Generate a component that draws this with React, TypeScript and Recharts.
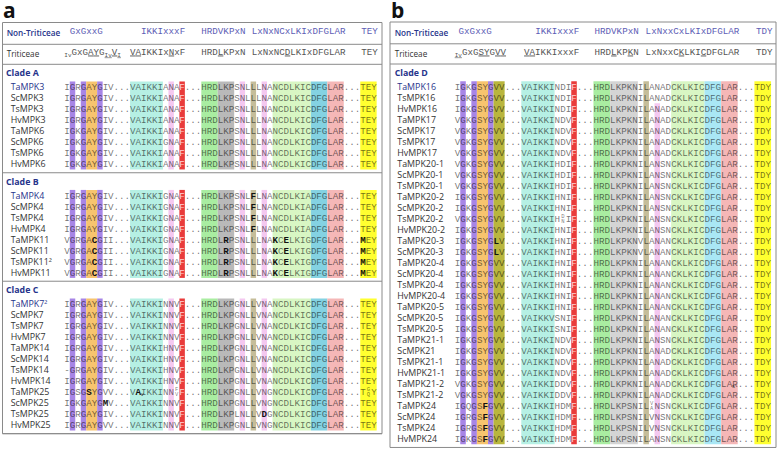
import React from 'react'
import { ScatterChart, Scatter, XAxis, YAxis, ReferenceArea, ReferenceLine } from 'recharts'

// ---- panel a: sequences (markup: *X = bold, {AB} = stacked small pair, X_s = small subscript) ----
const cladeANames = ['TaMPK3', 'ScMPK3', 'TsMPK3', 'HvMPK3', 'TaMPK6', 'ScMPK6', 'TsMPK6', 'HvMPK6']
const cladeASeqs = [
    'IGRGAYGIV...VAIKKIANAF...HRDLKPSNLLLNANCDLKICDFGLAR...TEY',
    'IGRGAYGIV...VAIKKIANAF...HRDLKPSNLLLNANCDLKICDFGLAR...TEY',
    'IGRGAYGIV...VAIKKIANAF...HRDLKPSNLLLNANCDLKICDFGLAR...TEY',
    'IGRGAYGIV...VAIKKIANAF...HRDLKPSNLLLNANCDLKICDFGLAR...TEY',
    'IGKGAYGIV...VAIKKIANAF...HRDLKPSNLLLNANCDLKICDFGLAR...TEY',
    'IGKGAYGIV...VAIKKIGNAF...HRDLKPSNLLLNANCDLKICDFGLAR...TEY',
    'IGKGAYGIV...VAIKKIANAF...HRDLKPSNLLLNANCDLKICDFGLAR...TEY',
    'IGKGAYGIV...VAIKKIANAF...HRDLKPSNLLLNANCDLKICDFGLAR...TEY',
]
const cladeBNames = ['TaMPK4', 'ScMPK4', 'TsMPK4', 'HvMPK4', 'TaMPK11', 'ScMPK11', 'TsMPK11²', 'HvMPK11']
const cladeBSeqs = [
    'IGRGAYGIV...VAIKKIGNAF...HRDLKPSNL*FLNANCDLKIADFGLAR...TEY',
    'IGRGAYGIV...VAIKKIGNAF...HRDLKPSNL*FLNANCDLKIADFGLAR...TEY',
    'IGRGAYGIV...VAIKKIGNAF...HRDLKPSNL*FLNANCDLKIADFGLAR...TEY',
    'IGRGAYGIV...VAIKKIGNAF...HRDLKPSNL*FLNANCDLKIADFGLAR...TEY',
    'VGRGA*CGII...VAIKKIGNAF...HRDL*RPSNLLLNA*KC*ELKIGDFGLAR...*MEY',
    'VGRGA*CGII...VAIKKIGNAF...HRDL*RPSNLLLNA*KC*ELKIGDFGLAR...*MEY',
    'VGRGA*CGII...VAIKKIGNAF...HRDL*RPSNLLLNA*KC*ELKIGDFGLAR...*MEY',
    'VGRGA*CGII...VAIKKIGNAF...HRDL*RPSNLLLNA*KC*ELKIGDFGLAR...*MEY',
]
const cladeCNames = ['TaMPK7²', 'ScMPK7', 'TsMPK7', 'HvMPK7', 'TaMPK14', 'ScMPK14', 'TsMPK14', 'HvMPK14', 'TaMPK25', 'ScMPK25', 'TsMPK25', 'HvMPK25']
const cladeCSeqs = [
    'IGRGAYGIV...VAIKKINNVF...HRDLKPGNLLVNANCDLKICDFGLAR...TEY',
    'IGRGAYGIV...VAIKKINNVF...HRDLKPGNLLVNANCDLKICDFGLAR...TEY',
    'IGRGAYGIV...VAIKKINNVF...HRDLKPGNLLVNANCDLKICDFGLAR...TEY',
    'IGRGAYGIV...VAIKKINNVF...HRDLKPGNLLVNANCDLKICDFGLAR...TEY',
    'IGRGAYGIV...VAIKKIHNVF...HRDLKPGNLLVNANCDLKICDFGLAR...TEY',
    'IGRGAYGIV...VAIKKIHNVF...HRDLKPGNLLVNANCDLKICDFGLAR...TEY',
    '-GRGAYGIV...VAIKKIHNVF...HRDLKPGNLLVNANCDLKICDFGLAR...TEY',
    'IGRGAYGIV...VAIKKIHNVF...HRDLKPGNLLVNANCDLKICDFGLAR...TEY',
    'IGSG*SYGVV...V*A_vIKKINN{FV}F...HRDLKPGNLLVNGNCDLKICDFGLAR...T{GQ}Y',
    'IGKGAYG*MV...VAIKKINNVF...HRDLKPGNLLVNGNCDLKICDFGLAR...TEY',
    'IGRGAYGIV...VAIKKINNVF...HRDLKPLNLLV*DGNCDLKICDFGLAR...TEY',
    'IGRGAYGVV...VAIKKINNVF...HRDLKPGNLLVNGNCDLKICDFGLAR...TEY',
]

// ---- panel b ----
const cladeDNames = [
    'TaMPK16', 'TsMPK16', 'HvMPK16', 'TaMPK17', 'ScMPK17', 'TsMPK17', 'HvMPK17',
    'TaMPK20-1', 'ScMPK20-1', 'TsMPK20-1', 'TaMPK20-2', 'ScMPK20-2', 'TsMPK20-2', 'HvMPK20-2',
    'TaMPK20-3', 'ScMPK20-3', 'TaMPK20-4', 'ScMPK20-4', 'TsMPK20-4', 'HvMPK20-4',
    'TaMPK20-5', 'ScMPK20-5', 'TsMPK20-5', 'TaMPK21-1', 'ScMPK21', 'TsMPK21-1', 'HvMPK21-1',
    'TaMPK21-2', 'TsMPK21-2', 'TaMPK24', 'ScMPK24', 'TsMPK24', 'HvMPK24',
]
const cladeDSeqs = [
    'IGKGSYGVV...VAIKKINDIF...HRDLKPKNILANADCKLKICDFGLAR...TDY',
    'IGKGSYGVV...VAIKKINDIF...HRDLKPKNILANADCKLKICDFGLAR...TDY',
    'IGKGSYGVV...VAIKKINDIF...HRDLKPKNILANADCKLKICDFGLAR...TDY',
    'VGKGSYGVV...VAIKKINDVF...HRDLKPKNILANADCKLKICDFGLAR...TDY',
    'VGKGSYGVV...VAIKKINDVF...HRDLKPKNILANADCKLKICDFGLAR...TDY',
    'VGKGSYGVV...VAIKKINDVF...HRDLKPKNILANADCKLKICDFGLAR...TDY',
    'VGKGSYGVV...VAIKKINDVF...HRDLKPKNILANADCKLKICDFGLAR...TDY',
    'VGKGSYGVV...VAIKKIHDIF...HRDLKPKNILANSNCKLKICDFGLAR...TDY',
    'VGKGSYGVV...VAIKKIHDIF...HRDLKPKNILANSNCKLKICDFGLAR...TDY',
    'VGKGSYGVV...VAIKKIHDIF...HRDLKPKNILANSNCKLKICDFGLAR...TDY',
    'IGKGSYGVV...VAIKKIHNIF...HRDLKPKNILANSNCKLKICDFGLAR...TDY',
    'IGKGSYGVV...VAIKKIHNIF...HRDLKPKNILANSNCKLKICDFGLAR...TDY',
    'VGKGSYGVV...VAIKKIH{DN}IF...HRDLKPKNILANSNCKLKICDFGLAR...TDY',
    'IGKGSYGVV...VAIKKIHNIF...HRDLKPKNILANSNCKLKICDFGLAR...TDY',
    'IGKGSYG*LV...VAIKKIHNIF...HRDLKPKNVLANANCKLKICDFGLAR...TDY',
    'IGKGSYG*LV...VAIKKIHNIF...HRDLKPKNVLANANCKLKICDFGLAR...TDY',
    'IGKGSYGVV...VAIKKIHNIF...HRDLKPKNILANANCKLKICDFGLAR...TDY',
    'IGKGSYGVV...VAIKKIHNIF...HRDLKPKNILANANCKLKICDFGLAR...TDY',
    'IGKGSYGVV...VAIKKIHNIF...HRDLKPKNILANANCKLKICDFGLAR...TDY',
    'IGKGSYGVV...VAIKKIHNIF...HRDLKPKNILANANCKLKICDFGLAR...TDY',
    'IGKGSYGVV...VAIKKIHNIF...HRDLKPKNILANANCKLKICDFGLAR...TDY',
    'IGKGSYGVV...VAIKKVSNIF...HRDLKPKNILANANCKLKICDFGLAR...TDY',
    'IGKGSYGVV...VAIKKISNIF...HRDLKPKNILANANCKLKICDFGLAR...TDY',
    'IGKGSYGVV...VAIKKINDVF...HRDLKPKNILANSNCKLKICDFGLAR...TDY',
    'IGKGSYGVV...VAIKKINDVF...HRDLKPKNILANADCKLKICDFGLAR...TDY',
    'IGKGSYGVV...VAIKKINDVF...HRDLKPKNILANADCKLKICDFGLAR...TDY',
    'IGKGSYGVV...VAIKKINDVF...HRDLKPKNILANADCKLKICDFGLAR...TDY',
    'VGKGSYGVV...VAIKKIDDVF...HRDLKPKNILANADCKLKICDFGLA_sR...TDY',
    'VGKGSYGVV...VAIKKIDDVF...HRDLKPKNILANADCKLKICDFGLAR...TDY',
    'IGQGS*FGVV...VAIKKIHDMF...HRDLKPSNIL{VA}NSNCKLKICDFGLAR...TDY',
    'IGRGS*FGVV...VAIKKIHDMF...HRDLKPSNILVNSNCKLKICDFGLAR...TDY',
    'IGRGS*FGVV...VAIKKIHDMF...HRDLKPSNILVNSNCKLKICDFGLAR...TDY',
    'IGKGS*FGVV...VAIKKIHDMF...HRDLKPSNILANSNCKLKICDFGLAR...TDY',
]

// header motifs (markup: _X = small lowered, [..] = underlined)
const nonTritMotifsA = ['GxGxxG', 'IKKIxxxF', 'HRDVKPxN', 'LxNxNCxLKIxDFGLAR', 'TEY']
const tritMotifsA = ['_I_vGxG[AY]G[_I_vV_I]', '[VA]IKKIx[N]xF', 'HRD[L]KPxN', 'LxNxNC[D]LKIxDFGLAR', 'TEY']
const nonTritMotifsB = ['GxGxxG', 'IKKIxxxF', 'HRDVKPxN', 'LxNxxCxLKIxDFGLAR', 'TDY']
const tritMotifsB = ['[_I_v]GxG[SY]G[VV]', '[VA]IKKIxxxF', 'HRD[L]KP[K]N', 'LxNxxC[K]LKI[C]DFGLAR', 'TDY']

const COLORS: Record<string, string> = {
    purple: '#a785e6', orange: '#f7c46e', olive: '#b9b63e', cyan: '#b6f0e4', pink: '#f4c8f0',
    red: '#e93b3b', green: '#a9eda1', gray: '#b9b9b9', grayLight: '#d4d4d4', tan: '#c5bd99',
    lime: '#d8f6c3', blue: '#84d2e2', blueLight: '#a9e7f5', salmon: '#f5b7b7', yellow: '#ffff30',
}

// [fromCol, toCol, colour, firstRow]
const bandsA: [number, number, string, number][] = [
    [1, 1, 'purple', 0], [3, 3, 'purple', 0], [4, 5, 'orange', 0], [6, 6, 'purple', 0],
    [12, 17, 'cyan', 0], [19, 19, 'pink', 0], [21, 21, 'red', 0], [25, 27, 'green', 0],
    [28, 30, 'gray', 0], [32, 32, 'pink', 0], [34, 34, 'tan', 0], [36, 36, 'pink', 0],
    [38, 44, 'lime', 0], [45, 47, 'blue', 0], [48, 50, 'salmon', 0], [54, 56, 'yellow', 0],
]
const bandsB: [number, number, string, number][] = [
    [1, 1, 'purple', 0], [3, 3, 'purple', 0], [4, 5, 'orange', 0], [6, 6, 'purple', 0], [7, 8, 'olive', 0],
    [12, 17, 'cyan', 0], [21, 21, 'red', 0], [25, 27, 'green', 0], [28, 32, 'grayLight', 0],
    [34, 34, 'tan', 0], [36, 36, 'pink', 2], [39, 44, 'lime', 0], [45, 47, 'blueLight', 0],
    [48, 50, 'salmon', 0], [54, 56, 'yellow', 0],
]

const ROW = 11
const H = 449
const MONO = '"Liberation Mono", "DejaVu Sans Mono", monospace'
const SANS = '"Open Sans", "Noto Sans", sans-serif'
const NAVY = '#27348b'

function parseSeq(s: string) {
    const cells: any[] = []
    let i = 0
    while (i < s.length) {
        let bold = false
        if (s[i] === '*') { bold = true; i++ }
        if (s[i] === '{') {
            const end = s.indexOf('}', i)
            cells.push({ stack: s.slice(i + 1, end), bold })
            i = end + 1
            continue
        }
        const cell: any = { ch: s[i], bold }
        i++
        if (s[i] === '_') { cell.sub = s[i + 1]; i += 2 }
        cells.push(cell)
    }
    return cells
}

function motifSpans(m: string) {
    const out: any[] = []
    let under = false
    let shifted = false
    for (let i = 0; i < m.length; i++) {
        let c = m[i]
        if (c === '[') { under = true; continue }
        if (c === ']') { under = false; continue }
        let sub = false
        if (c === '_') { sub = true; c = m[++i] }
        const dy = sub && !shifted ? 2 : !sub && shifted ? -2 : 0
        shifted = sub
        out.push(
            <tspan key={i} dy={dy} fontSize={sub ? 6 : undefined} textDecoration={under ? 'underline' : undefined}>{c}</tspan>
        )
    }
    return out
}

const SeqChar = (props: any) => {
    const { cx, cy, payload: p } = props
    const fill = p.bold ? '#111' : p.color
    const op = p.bold || p.color !== '#000' ? 1 : 0.56
    if (p.stack) {
        return (
            <g>
                <text x={cx} y={cy - 0.8} textAnchor="middle" fontFamily={MONO} fontSize={5.5} fill={fill} fillOpacity={op}>{p.stack[0]}</text>
                <text x={cx} y={cy + 4.2} textAnchor="middle" fontFamily={MONO} fontSize={5.5} fill={fill} fillOpacity={op}>{p.stack[1]}</text>
            </g>
        )
    }
    return (
        <g>
            <text x={cx} y={cy} dy="0.35em" textAnchor="middle" fontFamily={MONO} fontSize={9.2}
                fontWeight={p.bold ? 700 : 400} fill={fill} fillOpacity={op}>{p.ch}</text>
            {p.sub && <text x={cx + 2.2} y={cy + 4} fontFamily={MONO} fontSize={5.5} fill="#333">{p.sub}</text>}
        </g>
    )
}

const LabelText = (props: any) => {
    const { cx, cy, payload: p } = props
    return (
        <text x={cx} y={cy} dy="0.35em" textAnchor="start" fontFamily={p.mono ? MONO : SANS}
            fontSize={p.size} fontWeight={p.weight} fill={p.color}>
            {p.mono ? motifSpans(p.text) : p.text}
        </text>
    )
}

const panelA = {
    letter: 'a', width: 388, x0: 64.3, cw: 5.48,
    clades: [
        { label: 'Clade A', names: cladeANames, seqs: cladeASeqs },
        { label: 'Clade B', names: cladeBNames, seqs: cladeBSeqs },
        { label: 'Clade C', names: cladeCNames, seqs: cladeCSeqs },
    ],
    bands: bandsA,
    motifs1: nonTritMotifsA, motifs2: tritMotifsA,
    cols1: [1, 14, 25, 34.2, 54.2], cols2: [0, 12, 25, 34.2, 54.2],
    box: [2.5, 382, 22.5], div: [44.3, 64.3], headX: 6.7, cladeX: 6, rowX: 10.7,
}
const panelB = {
    letter: 'b', width: 390, x0: 66.7, cw: 5.55,
    clades: [{ label: 'Clade D', names: cladeDNames, seqs: cladeDSeqs }],
    bands: bandsB,
    motifs1: nonTritMotifsB, motifs2: tritMotifsB,
    cols1: [0.7, 14.5, 25.2, 34.4, 54.3], cols2: [0, 12.5, 25.2, 34.4, 54.3],
    box: [2, 388, 22], div: [43.8, 64], headX: 6.7, cladeX: 6.7, rowX: 9.3,
}

function Panel({ cfg }: { cfg: any }) {
    const xu = (px: number) => (px - cfg.x0) / cfg.cw
    const yu = (px: number) => px / ROW

    const cells: any[] = []
    const labels: any[] = []
    const bands: any[] = []
    const dividers: number[] = [yu(cfg.div[0]), yu(cfg.div[1])]

    labels.push({ x: xu(3), y: yu(11), text: cfg.letter, size: 21, weight: 700, color: '#111' })
    labels.push({ x: xu(cfg.headX), y: yu(33.5), text: 'Non-Triticeae', size: 8.2, weight: 600, color: NAVY })
    labels.push({ x: xu(cfg.headX), y: yu(54.5), text: 'Triticeae', size: 8.2, weight: 400, color: '#333' })
    cfg.motifs1.forEach((m: string, i: number) =>
        labels.push({ x: cfg.cols1[i], y: yu(33.5), text: m, mono: true, size: 9.2, weight: 400, color: '#5d5db5' }))
    cfg.motifs2.forEach((m: string, i: number) =>
        labels.push({ x: cfg.cols2[i], y: yu(54.5), text: m, mono: true, size: 9.2, weight: 400, color: '#555' }))

    let top = yu(cfg.div[1])
    cfg.clades.forEach((c: any) => {
        const n = c.names.length
        const first = top + 2.06
        const bottom = top + n + 1.86
        labels.push({ x: xu(cfg.cladeX), y: top + 0.8, text: c.label, size: 8.8, weight: 700, color: NAVY })
        c.names.forEach((name: string, r: number) => {
            labels.push({ x: xu(cfg.rowX), y: first + r, text: name, size: 8.9, weight: 400, color: r === 0 ? NAVY : '#333' })
            parseSeq(c.seqs[r]).forEach((cell: any, col: number) => {
                cells.push({ ...cell, x: col + 0.5, y: first + r, color: col === 21 ? '#ffd2d2' : '#000' })
            })
        })
        cfg.bands.forEach(([c0, c1, key, startRow]: [number, number, string, number]) => {
            bands.push({ x1: c0, x2: c1 + 1, y1: first + startRow - 0.5, y2: first + n - 0.5, fill: COLORS[key] })
        })
        if (bottom < H / ROW - 0.5) dividers.push(bottom)
        top = bottom
    })
    const boxBottom = top

    const [bl, br, bt] = cfg.box
    return (
        <ScatterChart width={cfg.width} height={H} margin={{ top: 0, right: 0, bottom: 0, left: 0 }}>
            <XAxis type="number" dataKey="x" domain={[xu(0), xu(cfg.width)]} hide allowDataOverflow />
            <YAxis type="number" dataKey="y" domain={[0, H / ROW]} reversed hide allowDataOverflow />
            {bands.map((b, i) => (
                <ReferenceArea key={`band-${i}`} x1={b.x1} x2={b.x2} y1={b.y1} y2={b.y2} fill={b.fill} fillOpacity={1} stroke="none" />
            ))}
            <ReferenceArea x1={xu(bl)} x2={xu(br)} y1={yu(bt)} y2={boxBottom} fill="none" stroke="#8a8a8a" strokeWidth={1} />
            {dividers.map((y, i) => (
                <ReferenceLine key={`div-${i}`} segment={[{ x: xu(bl), y }, { x: xu(br), y }]} stroke="#8a8a8a" />
            ))}
            <Scatter data={cells} shape={SeqChar} isAnimationActive={false} />
            <Scatter data={labels} shape={LabelText} isAnimationActive={false} />
        </ScatterChart>
    )
}

export default function App() {
    return (
        <div style={{ display: 'flex', width: 778, height: H, background: '#fff' }}>
            <style>{'body{margin:0}'}</style>
            <Panel cfg={panelA} />
            <Panel cfg={panelB} />
        </div>
    )
}
